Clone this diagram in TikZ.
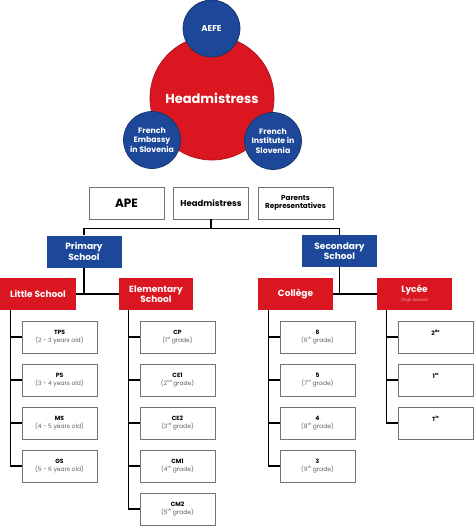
\documentclass[tikz,border=0pt]{standalone}
\usepackage{fontspec}
\setmainfont{Poppins}
\usetikzlibrary{positioning}

\definecolor{schoolred}{RGB}{218,22,32}
\definecolor{schoolblue}{RGB}{29,72,153}
\definecolor{boxgray}{RGB}{115,115,115}
\definecolor{subgray}{RGB}{95,95,95}

\newcommand{\ordsup}[1]{\raisebox{0.45em}{\fontsize{3.6}{3.6}\selectfont #1}}

\tikzset{
  whitebox/.style={draw=boxgray,line width=0.9pt,fill=white,minimum width=75pt,minimum height=32pt,inner sep=1pt,align=center},
  redbox/.style={fill=schoolred,text=white,minimum width=75pt,minimum height=32pt,inner sep=1pt,align=center,font=\bfseries\fontsize{9}{10.5}\selectfont},
  bluebox/.style={fill=schoolblue,text=white,minimum width=75pt,minimum height=32pt,inner sep=1pt,align=center,font=\bfseries\fontsize{9}{10.5}\selectfont},
  gradebox/.style={whitebox,font=\fontsize{6}{7.5}\selectfont},
  bluecircle/.style={circle,fill=schoolblue,draw=schoolblue!70!black,line width=0.7pt,text=white,align=center,inner sep=0pt,minimum size=57pt,font=\bfseries\fontsize{7.8}{9.3}\selectfont},
  line/.style={line width=1.3pt}
}

\begin{document}
\begin{tikzpicture}[x=1pt,y=-1pt]
                \useasboundingbox (0,0) rectangle (474,526);
                % circles
                \node[circle,fill=schoolred,draw=schoolred!80!black,line width=0.7pt,minimum size=124pt,text=white,font=\bfseries\fontsize{13}{15}\selectfont] (head) at (212,98) {Headmistress};
                \node[bluecircle,font=\bfseries\fontsize{8.5}{10}\selectfont] (aefe) at (211.5,28.5) {AEFE};
                \node[bluecircle] (embassy) at (152,140) {French\\Embassy\\in Slovenia};
                \node[bluecircle] (institute) at (273,141) {French\\Institute in\\Slovenia};
                % top row
                \node[whitebox,font=\bfseries\fontsize{12}{14}\selectfont] (ape) at (126.5,203) {APE};
                \node[whitebox,font=\bfseries\fontsize{8.5}{10}\selectfont] (headbox) at (211,203) {Headmistress};
                \node[whitebox,font=\bfseries\fontsize{7.2}{8.5}\selectfont] (parents) at (295.5,203) {Parents\\Representatives};
                % schools
                \node[bluebox] (primary) at (84,251.5) {Primary\\School};
                \node[bluebox] (secondary) at (339.5,251) {Secondary\\School};
                \node[redbox,minimum width=76pt] (little) at (38,294) {Little School};
                \node[redbox,minimum width=74pt] (elementary) at (156,294) {Elementary\\School};
                \node[redbox] (college) at (295.5,294) {Collège};
                \node[redbox] (lycee) at (414.5,294) {Lycée\\[-2pt]{\mdseries\fontsize{4}{4.5}\selectfont\color{schoolred!35!white}(High School)}};
                % grades
                \foreach \nm/\ypos/\ttl/\sbt in {tps/337/TPS/(2 - 3 years old),ps/380/PS/(3 - 4 years old),ms/423/MS/(4 - 5 years old),gs/466/GS/(5 - 6 years old)}
                    \node[gradebox] (\nm) at (59.5,\ypos) {\textbf{\ttl}\\\color{subgray}\sbt};
                \foreach \nm/\ypos/\ttl/\sbt in {cp/337/CP/(1\ordsup{st} grade),ceone/380/CE1/(2\ordsup{nd} grade),cetwo/423/CE2/(3\ordsup{rd} grade),cmone/466/CM1/(4\ordsup{th} grade),cmtwo/509/CM2/(5\ordsup{th} grade)}
                    \node[gradebox] (\nm) at (177.5,\ypos) {\textbf{\ttl}\\\color{subgray}\sbt};
                \foreach \nm/\ypos/\ttl/\sbt in {six/337/6/(6\ordsup{th} grade),five/380/5/(7\ordsup{th} grade),four/423/4/(8\ordsup{th} grade),three/466/3/(9\ordsup{th} grade)}
                    \node[gradebox] (\nm) at (317.5,\ypos) {\textbf{\ttl}\\\color{subgray}\sbt};
                \foreach \nm/\ypos/\ttl in {seconde/337/2\ordsup{de},premiere/380/1\ordsup{re},terminale/423/T\ordsup{le}}
                    \node[gradebox] (\nm) at (435.5,\ypos) {\textbf{\ttl}\\\phantom{(x)}};
                % connectors
                \draw[line] (headbox.south) -- ++(0,9) coordinate (bus);
                \draw[line] (primary.north) |- (bus) -| (secondary.north);
                \draw[line] (primary.south) -- (primary.south |- little.east);
                \draw[line] (little.east) -- (elementary.west);
                \draw[line] (secondary.south) -- (secondary.south |- college.east);
                \draw[line] (college.east) -- (lycee.west);
                \draw[line] (tps.west) ++(-11,0) coordinate (stemA) -- (tps.west);
                \draw[line] (stemA |- little.south) |- (gs.west);
                \draw[line] (cp.west) ++(-11,0) coordinate (stemB) -- (cp.west);
                \draw[line] (stemB |- elementary.south) |- (cmtwo.west);
                \draw[line] (six.west) ++(-11,0) coordinate (stemC) -- (six.west);
                \draw[line] (stemC |- college.south) |- (three.west);
                \draw[line] (seconde.west) ++(-11,0) coordinate (stemD) -- (seconde.west);
                \draw[line] (stemD |- lycee.south) |- (terminale.west);
                \foreach \b in {ps,ms,ceone,cetwo,cmone,five,four,premiere}
                    \draw[line] (\b.west) -- ++(-11,0);
            \end{tikzpicture}
\end{document}
